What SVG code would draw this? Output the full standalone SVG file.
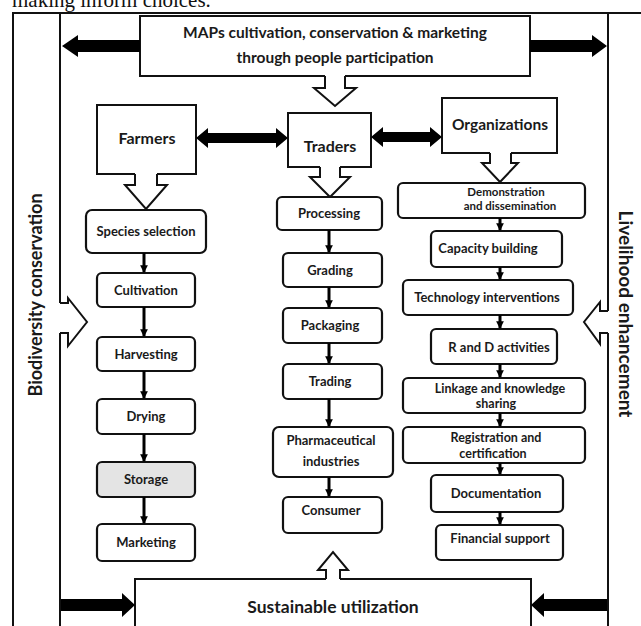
<svg xmlns="http://www.w3.org/2000/svg" width="641" height="626" viewBox="0 0 641 626">
<defs>
<style>
.bx{fill:#fff;stroke:#111;stroke-width:2}
.rb{fill:#fff;stroke:#111;stroke-width:2.2}
.t{font-family:Lato,"Open Sans","Liberation Sans",sans-serif;font-weight:bold;fill:#1a1a1a;text-anchor:middle}
.s13{font-size:13px}
.s12{font-size:11.5px}
.s14{font-size:15.5px}
.s16{font-size:16px}
.fr{stroke:#111;stroke-width:2;fill:none}
.blk{fill:#000;stroke:none}
.hw{fill:#fff;stroke:none}
.ho{fill:none;stroke:#111;stroke-width:2;stroke-linejoin:miter}
.ar{stroke:#000;stroke-width:3;fill:none;marker-end:url(#ah)}
</style>
<marker id="ah" viewBox="0 0 8 8" refX="7" refY="4" markerWidth="2.6" markerHeight="2.6" orient="auto" markerUnits="strokeWidth">
<path d="M0,0 L8,4 L0,8 Z" fill="#000"/>
</marker>
</defs>
<rect width="641" height="626" fill="#fff"/>
<text x="12" y="7" font-family="Liberation Serif,serif" font-size="21" fill="#111">making inform choices.</text>

<g id="frame">
<path class="fr" d="M12,13 H641"/>
<path class="fr" d="M13,13 V626"/>
<path class="fr" d="M60,13 V303 M60,333 V626"/>
<path class="fr" d="M608,13 V311 M608,333 V626"/>
</g>

<g id="biodiversity">
<text class="t" font-size="18" transform="translate(42,295) rotate(-90)">Biodiversity conservation</text>
<path class="hw" d="M59,303 H68 V298 L87,322 L68,346 V333 H59 Z"/>
<path class="ho" d="M60,303 H68 V298 L87,322 L68,346 V333 H60"/>
</g>

<g id="livelihood">
<text class="t" font-size="19" transform="translate(619,314) rotate(90)">Livelihood enhancement</text>
<path class="hw" d="M609,311 H600 V302 L584,322 L600,344 V333 H609 Z"/>
<path class="ho" d="M608,311 H600 V302 L584,322 L600,344 V333 H608"/>
</g>

<g id="top">
<rect class="bx" x="140" y="16" width="390" height="60"/>
<text class="t s14" x="335" y="38">MAPs cultivation, conservation &amp; marketing</text>
<text class="t s14" x="335" y="63">through people participation</text>
<path class="hw" d="M325,74 V88 H314 L335,106 L356,88 H345 V74 Z"/>
<path class="ho" d="M325,76 V88 H314 L335,106 L356,88 H345 V76"/>
</g>

<g id="farmers">
<rect class="bx" x="97" y="105" width="99" height="69"/>
<text class="t s16" x="147" y="144">Farmers</text>
<path class="hw" d="M135,172 V185 H125 L146,209 L167,185 H157 V172 Z"/>
<path class="ho" d="M135,174 V185 H125 L146,209 L167,185 H157 V174"/>
</g>

<g id="traders">
<rect class="bx" x="288" y="113" width="83" height="54"/>
<text class="t s16" x="330" y="152">Traders</text>
<path class="hw" d="M320,165 V177 H310 L330,197 L350,177 H340 V165 Z"/>
<path class="ho" d="M320,167 V177 H310 L330,197 L350,177 H340 V167"/>
</g>

<g id="organizations">
<rect class="bx" x="442" y="98" width="115" height="55"/>
<text class="t" font-size="15.5" x="500" y="130">Organizations</text>
<path class="hw" d="M490,151 V163 H482 L500,182 L518,163 H511 V151 Z"/>
<path class="ho" d="M490,153 V163 H482 L500,182 L518,163 H511 V153"/>
</g>

<g id="species-selection"><rect class="rb" x="86" y="210" width="120" height="43" rx="6"/><text class="t s13" x="146" y="236">Species selection</text></g>
<g id="cultivation"><rect class="rb" x="97" y="273" width="98" height="34" rx="5"/><text class="t s13" x="146" y="295">Cultivation</text></g>
<g id="harvesting"><rect class="rb" x="97" y="337" width="98" height="34" rx="5"/><text class="t s13" x="146" y="359">Harvesting</text></g>
<g id="drying"><rect class="rb" x="97" y="399" width="98" height="35" rx="5"/><text class="t s13" x="146" y="421">Drying</text></g>
<g id="storage"><rect class="rb" x="97" y="462" width="98" height="35" rx="5" style="fill:#e4e4e4"/><text class="t s13" x="146" y="484">Storage</text></g>
<g id="marketing"><rect class="rb" x="97" y="524" width="98" height="37" rx="5"/><text class="t s13" x="146" y="547">Marketing</text></g>

<g id="processing"><rect class="rb" x="277" y="197" width="105" height="33" rx="5"/><text class="t s13" x="329" y="218">Processing</text></g>
<g id="grading"><rect class="rb" x="283" y="253" width="99" height="34" rx="5"/><text class="t s13" x="330" y="275">Grading</text></g>
<g id="packaging"><rect class="rb" x="283" y="308" width="99" height="35" rx="5"/><text class="t s13" x="330" y="330">Packaging</text></g>
<g id="trading"><rect class="rb" x="283" y="364" width="99" height="35" rx="5"/><text class="t s13" x="330" y="386">Trading</text></g>
<g id="pharmaceutical-industries"><rect class="rb" x="273" y="427" width="120" height="50" rx="6"/><text class="t s13" x="331" y="445">Pharmaceutical</text><text class="t s13" x="331" y="466">industries</text></g>
<g id="consumer"><rect class="rb" x="283" y="497" width="99" height="36" rx="5"/><text class="t s13" x="331" y="515">Consumer</text></g>

<g id="demonstration"><rect class="rb" x="398" y="183" width="187" height="35" rx="5"/><text class="t s12" x="506" y="196">Demonstration</text><text class="t s12" x="510" y="210">and dissemination</text></g>
<g id="capacity-building"><rect class="rb" x="431" y="231" width="131" height="36" rx="5"/><text class="t s13" x="488" y="253">Capacity building</text></g>
<g id="technology-interventions"><rect class="rb" x="403" y="280" width="170" height="35" rx="5"/><text class="t s13" x="487" y="302">Technology interventions</text></g>
<g id="r-and-d"><rect class="rb" x="431" y="329" width="126" height="35" rx="5"/><text class="t s13" x="499" y="352">R and D  activities</text></g>
<g id="linkage"><rect class="rb" x="403" y="378" width="182" height="35" rx="5"/><text class="t" font-size="12.5" x="500" y="393">Linkage and  knowledge</text><text class="t" font-size="12.5" x="496" y="408">sharing</text></g>
<g id="registration"><rect class="rb" x="403" y="427" width="182" height="36" rx="5"/><text class="t" font-size="12.5" x="496" y="442">Registration and</text><text class="t" font-size="12.5" x="493" y="458">certification</text></g>
<g id="documentation"><rect class="rb" x="431" y="475" width="132" height="37" rx="5"/><text class="t s13" x="496" y="498">Documentation</text></g>
<g id="financial-support"><rect class="rb" x="436" y="525" width="127" height="35" rx="5"/><text class="t s13" x="500" y="543">Financial support</text></g>

<g id="sustainable">
<rect class="bx" x="135" y="579" width="396" height="60"/>
<text class="t" font-size="17.5" x="333" y="613">Sustainable utilization</text>
<path class="hw" d="M326,581 V570 H318 L333,552 L348,570 H340 V581 Z"/>
<path class="ho" d="M326,579 V570 H318 L333,552 L348,570 H340 V579"/>
</g>

<g id="connectors">
<path class="blk" d="M140,40 H78 V35 L62,46 L78,57 V52 H140 Z"/>
<path class="blk" d="M530,40 H592 V35 L607,46 L592,57 V52 H530 Z"/>
<path class="blk" d="M196,138 L208,128 V133 H276 V128 L288,138 L276,148 V143 H208 V148 Z"/>
<path class="blk" d="M371,137 L383,127 V132 H430 V127 L442,137 L430,147 V142 H383 V147 Z"/>
<path class="blk" d="M61,599 H122 V593 L135,605 L122,617 V611 H61 Z"/>
<path class="blk" d="M607,599 H544 V593 L531,605 L544,617 V611 H607 Z"/>
<path class="ar" d="M144,253 V272"/>
<path class="ar" d="M144,307 V336"/>
<path class="ar" d="M144,371 V398"/>
<path class="ar" d="M144,434 V461"/>
<path class="ar" d="M144,497 V523"/>
<path class="ar" d="M329,230 V252"/>
<path class="ar" d="M329,287 V307"/>
<path class="ar" d="M329,343 V363"/>
<path class="ar" d="M329,399 V426"/>
<path class="ar" d="M329,477 V496"/>
<path class="ar" d="M500,218 V230"/>
<path class="ar" d="M500,267 V279"/>
<path class="ar" d="M500,315 V328"/>
<path class="ar" d="M500,364 V377"/>
<path class="ar" d="M500,413 V426"/>
<path class="ar" d="M500,463 V474"/>
<path class="ar" d="M500,512 V524"/>
</g>
</svg>
